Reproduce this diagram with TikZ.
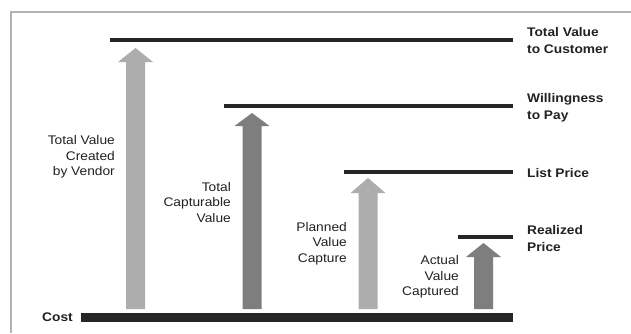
\documentclass[tikz,border=0pt]{standalone}
\usepackage{fontspec}
\setmainfont[FakeStretch=1.1]{Liberation Sans}
\definecolor{lightarr}{HTML}{ADADAD}
\definecolor{darkarr}{HTML}{7E7E7E}
\definecolor{barc}{HTML}{262626}
\definecolor{txtc}{HTML}{222222}
\definecolor{framec}{HTML}{B3B3B3}
\newcommand\blockarrow[5]{%
  \coordinate (#1tip) at (#2,#3);
  \coordinate (#1base) at (#2,309);
  \fill[#5] ({#2-9.5},309) -- ({#2-9.5},#4) -- ({#2-17.5},#4) -- (#1tip)
     -- ({#2+17.5},#4) -- ({#2+9.5},#4) -- ({#2+9.5},309) -- cycle;}
\begin{document}
\begin{tikzpicture}[x=1pt,y=-1pt,
  level/.style={line width=4pt,draw=barc},
  lvllabel/.style={anchor=west,align=left,font=\fontsize{12.5}{17}\selectfont\bfseries,text=txtc,inner sep=0pt},
  arrlabel/.style={anchor=east,align=right,font=\fontsize{12.5}{15.5}\selectfont,text=txtc,inner sep=0pt}]
\useasboundingbox (0,0) rectangle (631,333);
\fill[white] (0,0) rectangle (631,333);
% frame
\draw[framec,line width=2pt] (10.5,333) -- (10.5,12) -- (631,12);
% level lines
\coordinate (l1a) at (110,39.5); \coordinate (l1b) at (513,39.5);
\coordinate (l2a) at (224,105.5); \coordinate (l2b) at (513,105.5);
\coordinate (l3a) at (344,172); \coordinate (l3b) at (513,172);
\coordinate (l4a) at (458,237); \coordinate (l4b) at (513,237);
\draw[level] (l1a) -- (l1b);
\draw[level] (l2a) -- (l2b);
\draw[level] (l3a) -- (l3b);
\draw[level] (l4a) -- (l4b);
\fill[barc] (81,313) rectangle (513,322);
% right labels
\node[lvllabel] (t1) at (527,40.5) {Total Value\\to Customer};
\node[lvllabel] (t2) at (527,108) {Willingness\\to Pay};
\node[lvllabel] (t3) at (527,173) {List Price};
\node[lvllabel] (t4) at (527,239) {Realized\\Price};
\node[lvllabel,anchor=east] (tc) at (73,317.5) {Cost};
% arrows
\blockarrow{a1}{135.5}{48}{62}{lightarr}
\blockarrow{a2}{252}{113}{126}{darkarr}
\blockarrow{a3}{368}{178}{193}{lightarr}
\blockarrow{a4}{483.5}{243}{257}{darkarr}
% arrow labels
\node[arrlabel] (b1) at (115,157) {Total Value\\Created\\by Vendor};
\node[arrlabel] (b2) at (231,202.5) {Total\\Capturable\\Value};
\node[arrlabel] (b3) at (347,243.5) {Planned\\Value\\Capture};
\node[arrlabel] (b4) at (459,277) {Actual\\Value\\Captured};
\end{tikzpicture}
\end{document}
